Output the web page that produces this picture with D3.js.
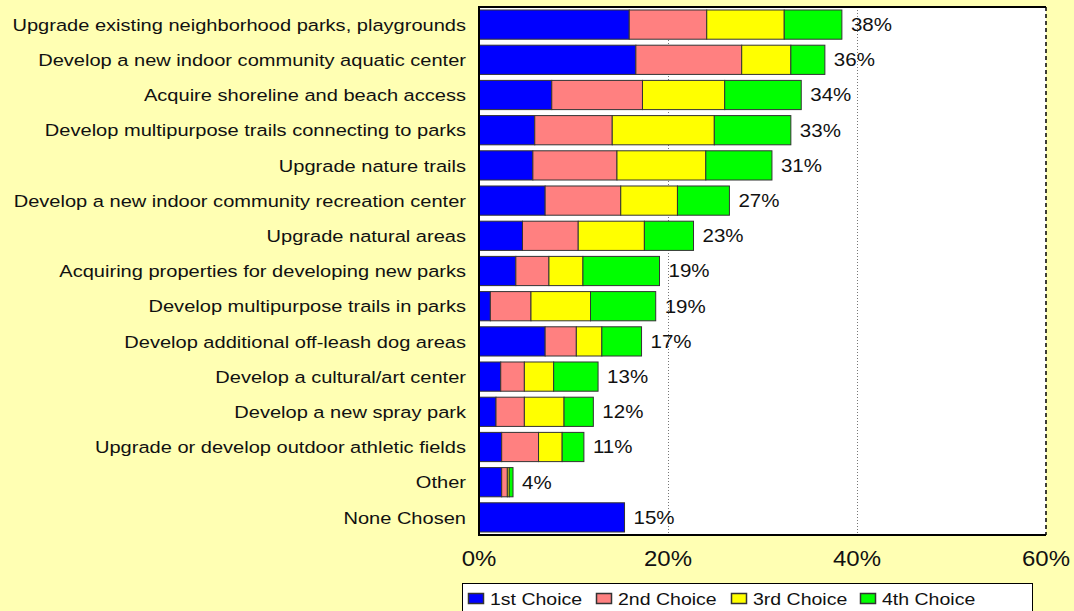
<!DOCTYPE html>
<html>
<head>
<meta charset="utf-8">
<script src="https://cdn.jsdelivr.net/npm/d3@7"></script>
<style>
  body { margin: 0; background: #ffffb3; }
  svg { display: block; font-family: "Liberation Sans", Arial, sans-serif; }
</style>
</head>
<body>
<div id="chart"></div>
<script>
// chart data (percent of respondents)
var categories = [
    "Upgrade existing neighborhood parks, playgrounds",
    "Develop a new indoor community aquatic center",
    "Acquire shoreline and beach access",
    "Develop multipurpose trails connecting to parks",
    "Upgrade nature trails",
    "Develop a new indoor community recreation center",
    "Upgrade natural areas",
    "Acquiring properties for developing new parks",
    "Develop multipurpose trails in parks",
    "Develop additional off-leash dog areas",
    "Develop a cultural/art center",
    "Develop a new spray park",
    "Upgrade or develop outdoor athletic fields",
    "Other",
    "None Chosen"
];
var firstChoice  = [15.9, 16.6, 7.7, 5.9, 5.7, 7.0, 4.6, 3.9, 1.2, 7.0, 2.3, 1.8, 2.4, 2.4, 15.4];
var secondChoice = [8.2, 11.2, 9.6, 8.2, 8.9, 8.0, 5.9, 3.5, 4.3, 3.3, 2.5, 3.0, 3.9, 0.6, 0];
var thirdChoice  = [8.2, 5.2, 8.7, 10.8, 9.4, 6.0, 7.0, 3.6, 6.3, 2.7, 3.1, 4.2, 2.5, 0.2, 0];
var fourthChoice = [6.1, 3.6, 8.1, 8.1, 7.0, 5.5, 5.2, 8.1, 6.9, 4.2, 4.7, 3.1, 2.3, 0.4, 0];
var totalLabels  = ["38%", "36%", "34%", "33%", "31%", "27%", "23%", "19%", "19%", "17%", "13%", "12%", "11%", "4%", "15%"];
var seriesNames  = ["1st Choice", "2nd Choice", "3rd Choice", "4th Choice"];
var xTicks = [0, 20, 40, 60];

var colors = ["#0000ff", "#ff8080", "#ffff00", "#00ff00"];
var width = 1074, height = 611;
var plot = {left: 479, right: 1046, top: 7, bottom: 535};

// the original text is drawn a little wide, so stretch it horizontally
function stretch(sel, sx, fx, fy) {
    sel.attr("x", 0).attr("y", 0)
        .attr("transform", function (d, i) {
            return "translate(" + fx(d, i) + "," + fy(d, i) + ") scale(" + sx + ",1)";
        });
}

// build rows for d3.stack
var keys = ["c1", "c2", "c3", "c4"];
var rows = categories.map(function (c, i) {
    return {cat: c, c1: firstChoice[i], c2: secondChoice[i], c3: thirdChoice[i], c4: fourthChoice[i], label: totalLabels[i]};
});
var stacked = d3.stack().keys(keys)(rows);

var x = d3.scaleLinear().domain([0, 60]).range([plot.left, plot.right]);
var y = d3.scaleBand().domain(categories).range([plot.top, plot.bottom])
    .paddingInner(0.17).paddingOuter(0.085);

var svg = d3.select("#chart").append("svg")
    .attr("width", width)
    .attr("height", height);

svg.append("rect")
    .attr("width", width).attr("height", height)
    .attr("fill", "#ffffb3");

// plot area
svg.append("rect")
    .attr("x", plot.left).attr("y", plot.top)
    .attr("width", plot.right - plot.left)
    .attr("height", plot.bottom - plot.top)
    .attr("fill", "#ffffff");

// gridlines
svg.selectAll("line.grid")
    .data([20, 40])
    .enter().append("line")
    .attr("class", "grid")
    .attr("x1", function (d) { return x(d) + 0.5; })
    .attr("x2", function (d) { return x(d) + 0.5; })
    .attr("y1", plot.top).attr("y2", plot.bottom)
    .attr("stroke", "#777")
    .attr("stroke-width", 1)
    .attr("stroke-dasharray", "1,2");

// right edge (dashed)
svg.append("line")
    .attr("x1", x(60)).attr("x2", x(60))
    .attr("y1", plot.top).attr("y2", plot.bottom)
    .attr("stroke", "#000")
    .attr("stroke-width", 1.5)
    .attr("stroke-dasharray", "4,3");

// bars
var layer = svg.selectAll("g.layer")
    .data(stacked)
    .enter().append("g")
    .attr("class", "layer")
    .attr("fill", function (d, i) { return colors[i]; });

layer.selectAll("rect")
    .data(function (d) { return d.filter(function (s) { return s[1] - s[0] > 0; }); })
    .enter().append("rect")
    .attr("x", function (d) { return x(d[0]); })
    .attr("y", function (d) { return y(d.data.cat); })
    .attr("width", function (d) { return x(d[1]) - x(d[0]); })
    .attr("height", y.bandwidth())
    .attr("stroke", "#333")
    .attr("stroke-width", 1);

// value labels
svg.selectAll("text.val")
    .data(rows)
    .enter().append("text")
    .attr("class", "val")
    .attr("dy", "0.36em")
    .attr("font-size", 18)
    .attr("fill", "#111")
    .text(function (d) { return d.label; })
    .call(stretch, 1.14,
        function (d) { return x(d.c1 + d.c2 + d.c3 + d.c4) + 9; },
        function (d) { return y(d.cat) + y.bandwidth() / 2; });

// plot borders: top, left, bottom
svg.append("path")
    .attr("d", "M" + plot.right + "," + plot.top + "H" + plot.left + "V" + plot.bottom + "H" + plot.right)
    .attr("fill", "none")
    .attr("stroke", "#000")
    .attr("stroke-width", 2);

// category labels
svg.selectAll("text.cat")
    .data(categories)
    .enter().append("text")
    .attr("class", "cat")
    .attr("dy", "0.36em")
    .attr("text-anchor", "end")
    .attr("font-size", 17)
    .attr("fill", "#111")
    .text(function (d) { return d; })
    .call(stretch, 1.18,
        function () { return plot.left - 13; },
        function (d) { return y(d) + y.bandwidth() / 2; });

// x tick labels
svg.selectAll("text.tick")
    .data(xTicks)
    .enter().append("text")
    .attr("class", "tick")
    .attr("text-anchor", "middle")
    .attr("font-size", 22)
    .attr("fill", "#111")
    .text(function (d) { return d + "%"; })
    .call(stretch, 1.09,
        function (d) { return x(d); },
        function () { return 566; });

// legend
var legend = svg.append("g");
legend.append("rect")
    .attr("x", 462.5).attr("y", 583.5)
    .attr("width", 570).attr("height", 40)
    .attr("fill", "#fff")
    .attr("stroke", "#000")
    .attr("stroke-width", 1);

var legendX = [468, 596, 731, 860];
var item = legend.selectAll("g.item")
    .data(seriesNames)
    .enter().append("g")
    .attr("class", "item")
    .attr("transform", function (d, i) { return "translate(" + legendX[i] + ",0)"; });

item.append("rect")
    .attr("x", 0.5).attr("y", 593.5)
    .attr("width", 15).attr("height", 10)
    .attr("fill", function (d, i) { return colors[i]; })
    .attr("stroke", "#333")
    .attr("stroke-width", 1.5);

item.append("text")
    .attr("font-size", 16)
    .attr("fill", "#111")
    .text(function (d) { return d; })
    .call(stretch, 1.22,
        function () { return 22; },
        function () { return 605; });
</script>
</body>
</html>
